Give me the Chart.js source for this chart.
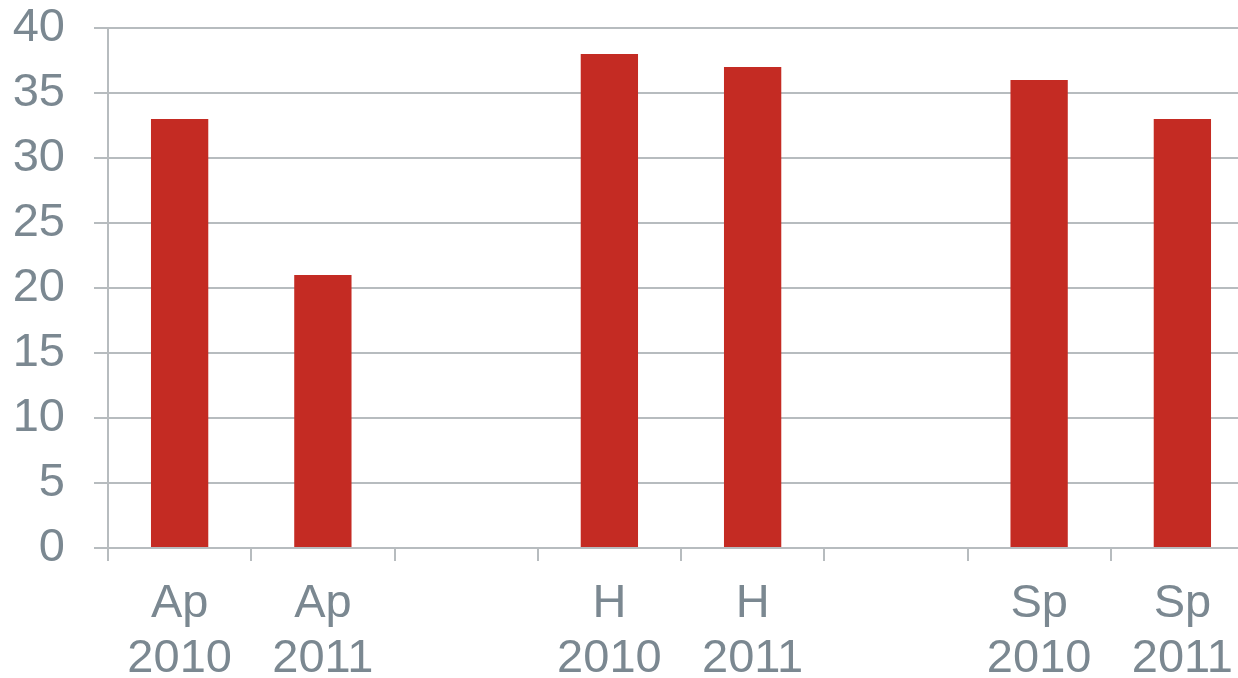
<!DOCTYPE html>
<html>
<head>
<meta charset="utf-8">
<script src="https://cdn.jsdelivr.net/npm/chart.js@4"></script>
<style>
html,body{margin:0;padding:0;width:1238px;height:678px;overflow:hidden;background:#fff;}
#wrap{position:absolute;left:0;top:0;}
</style>
</head>
<body>
<div id="wrap"><canvas id="c" width="1254" height="700"></canvas></div>
<script>
const categories = [["Ap","2010"],["Ap","2011"],"",["H","2010"],["H","2011"],"",["Sp","2010"],["Sp","2011"]];
const values = [33, 21, null, 38, 37, null, 36, 33];
const yTicks = [0,5,10,15,20,25,30,35,40];

const textColor = '#7b8891';
const gridColor = '#b7bcbf';
const CH = 700;

new Chart(document.getElementById('c'), {
  type: 'bar',
  data: {
    labels: categories,
    datasets: [{
      data: values,
      backgroundColor: '#c42b23',
      borderWidth: 0,
      categoryPercentage: 1,
      barPercentage: 0.4
    }]
  },
  options: {
    responsive: false,
    animation: false,
    events: [],
    layout: { padding: { top: 0, left: 0, right: 0, bottom: 0 } },
    plugins: { legend: { display: false }, tooltip: { enabled: false } },
    scales: {
      x: {
        offset: true,
        grid: { offset: true, drawOnChartArea: false, drawTicks: true, tickLength: 13, color: gridColor, lineWidth: 2 },
        border: { display: true, color: gridColor, width: 2 },
        ticks: { color: textColor, font: { family: 'Liberation Sans, Arial, sans-serif', size: 47, lineHeight: 1.17 }, padding: 16, maxRotation: 0, autoSkip: false },
        afterFit: s => { s.height = CH - 548; s.paddingLeft = 0; s.paddingRight = 0; }
      },
      y: {
        min: 0, max: 40,
        afterBuildTicks: s => { s.ticks = yTicks.map(v => ({ value: v })); },
        grid: { drawTicks: true, tickLength: 14, color: gridColor, lineWidth: 2 },
        border: { display: true, color: gridColor, width: 2 },
        ticks: { color: textColor, font: { family: 'Liberation Sans, Arial, sans-serif', size: 47 }, padding: 29 },
        afterFit: s => { s.width = 108; s.paddingTop = 28; s.paddingBottom = 0; }
      }
    }
  }
});
</script>
</body>
</html>
